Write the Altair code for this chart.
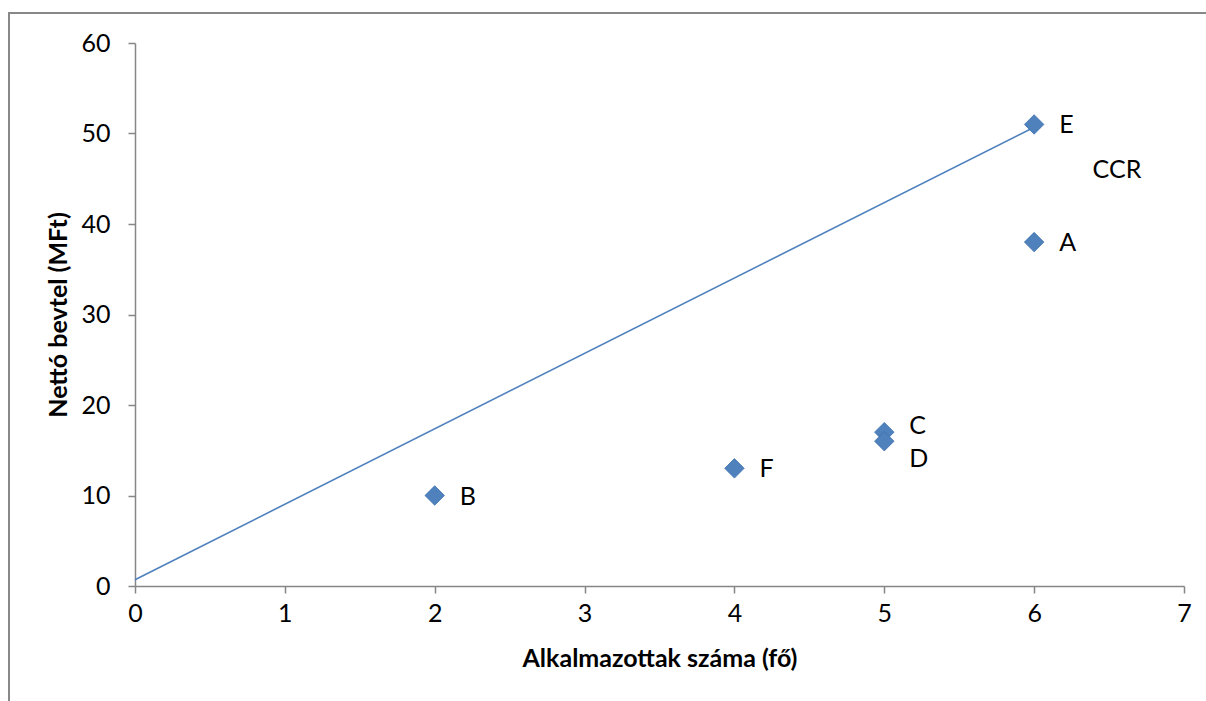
import altair as alt
import pandas as pd

# Data
names = ["A", "B", "C", "D", "E", "F"]
employees = [6, 2, 5, 5, 6, 4]
revenue = [38, 10, 17, 16, 51, 13]

line_x = [0, 6]
line_y = [0.7, 50.7]

ccr_x = [6.39]
ccr_y = [46]
ccr_text = ["CCR"]

x_ticks = [0, 1, 2, 3, 4, 5, 6, 7]
y_ticks = [0, 10, 20, 30, 40, 50, 60]

pts = pd.DataFrame({"name": names, "x": employees, "y": revenue})
line_df = pd.DataFrame({"x": line_x, "y": line_y})
ccr_df = pd.DataFrame({"x": ccr_x, "y": ccr_y, "t": ccr_text})

W, H = 1049, 543
FONT = "Lato"
FS = 25
AX = "#868686"
BLUE = "#4F81BD"

xscale = alt.Scale(domain=[0, 7], nice=False)
yscale = alt.Scale(domain=[0, 60], nice=False)

xaxis = alt.Axis(values=x_ticks, format="d", title="Alkalmazottak száma (fő)", grid=False,
                 domainColor=AX, domainWidth=1.5, tickColor=AX, tickWidth=1.5, tickSize=7,
                 labelFont=FONT, labelFontSize=FS, labelColor="black", labelPadding=8,
                 titleFont=FONT, titleFontSize=FS, titleFontWeight="bold", titleColor="black",
                 titlePadding=20, labelFlush=False)
yaxis = alt.Axis(values=y_ticks, format="d", title="Nettó bevtel (MFt)", grid=False,
                 domainColor=AX, domainWidth=1.5, tickColor=AX, tickWidth=1.5, tickSize=7,
                 labelFont=FONT, labelFontSize=FS, labelColor="black", labelPadding=18,
                 titleFont=FONT, titleFontSize=FS, titleFontWeight="bold", titleColor="black",
                 titlePadding=9, labelFlush=False)

frame = alt.Chart(alt.Data(values=[{"a": 1}])).mark_rect(
    fillOpacity=0, stroke="#888888", strokeWidth=2
).encode(x=alt.value(-126), x2=alt.value(W + 60), y=alt.value(-30), y2=alt.value(H + 200))

line = alt.Chart(line_df).mark_line(color=BLUE, strokeWidth=1.6).encode(
    x=alt.X("x:Q", scale=xscale, axis=xaxis),
    y=alt.Y("y:Q", scale=yscale, axis=yaxis),
)

points = alt.Chart(pts).mark_point(shape="diamond", filled=True, size=380, color=BLUE, opacity=1,
                                   stroke="#3F71AD", strokeWidth=0.8).encode(
    x=alt.X("x:Q", scale=xscale),
    y=alt.Y("y:Q", scale=yscale),
)

lab_main = alt.Chart(pts).transform_filter(
    alt.FieldOneOfPredicate(field="name", oneOf=["A", "B", "E", "F"])
).mark_text(align="left", baseline="middle", dx=25, dy=1, font=FONT, fontSize=FS, color="black").encode(
    x=alt.X("x:Q", scale=xscale), y=alt.Y("y:Q", scale=yscale), text="name:N"
)
lab_c = alt.Chart(pts).transform_filter(alt.datum.name == "C").mark_text(
    align="left", baseline="middle", dx=25, dy=-6, font=FONT, fontSize=FS, color="black"
).encode(x=alt.X("x:Q", scale=xscale), y=alt.Y("y:Q", scale=yscale), text="name:N")
lab_d = alt.Chart(pts).transform_filter(alt.datum.name == "D").mark_text(
    align="left", baseline="middle", dx=25, dy=18, font=FONT, fontSize=FS, color="black"
).encode(x=alt.X("x:Q", scale=xscale), y=alt.Y("y:Q", scale=yscale), text="name:N")

ccr = alt.Chart(ccr_df).mark_text(align="left", baseline="middle", font=FONT, fontSize=FS,
                                  color="black").encode(
    x=alt.X("x:Q", scale=xscale), y=alt.Y("y:Q", scale=yscale), text="t:N"
)

chart = alt.layer(frame, line, points, lab_main, lab_c, lab_d, ccr).properties(
    width=W, height=H,
    autosize=alt.AutoSizeParams(type="none"),
    padding={"left": 135, "top": 43, "right": 22, "bottom": 115},
    background="white",
).configure_view(stroke=None)

chart.save("out.html", embed_options={"renderer": "svg", "actions": False})
